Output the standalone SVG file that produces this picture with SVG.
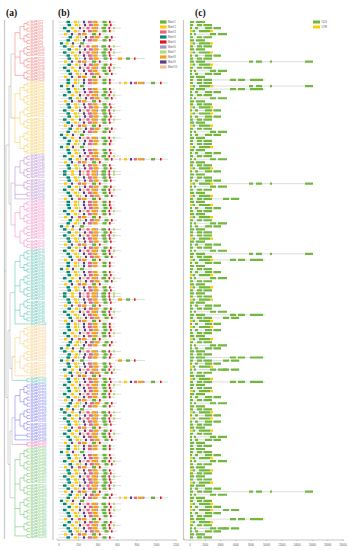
<svg xmlns="http://www.w3.org/2000/svg" xmlns:xlink="http://www.w3.org/1999/xlink" width="350" height="550" viewBox="0 0 350 550">
<style>
path{fill:none}
.ln{stroke:#cfcfcf;stroke-width:.7}
.k1{stroke:#6ab23e;stroke-width:2.4}.k2{stroke:#ffcc00;stroke-width:2.4}.k3{stroke:#ef5f82;stroke-width:2.4}.k4{stroke:#008a78;stroke-width:2.4}.k5{stroke:#e3141c;stroke-width:2.4}.k6{stroke:#9d9abf;stroke-width:2.4}.k7{stroke:#b3da7f;stroke-width:2.4}.k8{stroke:#f7a11a;stroke-width:2.4}.k9{stroke:#5a3c8e;stroke-width:2.4}.k10{stroke:#fbbd90;stroke-width:2.4}
.cd{stroke:#72b83e;stroke-width:2.2}.ut{stroke:#ffcc00;stroke-width:2.2}
.tp{stroke:currentColor;stroke-width:.5}
.rt{stroke:#a8a8a8;stroke-width:.5}
.sep{stroke:#c8c8c8;stroke-width:1.2}
.ax{stroke:#8a8a8a;stroke-width:.5}
.lb{font-family:"Liberation Sans",Arial,sans-serif;font-size:2.8px}
.sm{font-family:"Liberation Sans",Arial,sans-serif;font-size:2.6px;fill:#555}
.pl{font-family:"Liberation Serif","Times New Roman",serif;font-size:9.5px;font-weight:bold;fill:#111}
</style>
<defs>
<path id="t2" class="tp" d="M27 0H30M27 3.05H30M27 0V3.05"/>
<g id="t4"><use href="#t2"/><use href="#t2" y="6.1"/><path class="tp" d="M24 1.525H27M24 7.625H27M24 1.525V7.625"/></g>
<g id="t8"><use href="#t4"/><use href="#t4" y="12.2"/><path class="tp" d="M20 4.575H24M20 16.775H24M20 4.575V16.775"/></g>
<g id="ma"><path class="ln" d="M58.5 0H115"/><path class="k4" d="M66.5 0h3.5"/><path class="k2" d="M74 0h3"/><path class="k7" d="M78 0h1.2"/><path class="k9" d="M83 0h2"/><path class="k3" d="M88 0h3"/><path class="k6" d="M91 0h1.5"/><path class="k8" d="M93 0h4.5"/><path class="k1" d="M102.5 0h4"/><path class="k5" d="M109 0h1.6"/></g>
<g id="mb"><path class="ln" d="M58.5 0H121"/><path class="k4" d="M63 0h3.5"/><path class="k2" d="M71 0h3"/><path class="k9" d="M79 0h2"/><path class="k10" d="M82.5 0h2"/><path class="k3" d="M86.5 0h3"/><path class="k8" d="M91.5 0h5"/><path class="k6" d="M96.5 0h1.5"/><path class="k1" d="M101.5 0h4.5"/><path class="k5" d="M108.5 0h1.6"/><path class="k7" d="M113 0h2"/></g>
<g id="mc"><path class="ln" d="M58.5 0H108"/><path class="k2" d="M64 0h3"/><path class="k9" d="M71 0h2"/><path class="k3" d="M78 0h3"/><path class="k8" d="M82 0h4.5"/><path class="k1" d="M92 0h4"/><path class="k5" d="M99 0h1.6"/></g>
<g id="md"><path class="ln" d="M58.5 0H92"/><path class="k4" d="M60 0h3"/><path class="k2" d="M66 0h2.5"/><path class="k9" d="M72 0h2"/><path class="k1" d="M80 0h4"/></g>
<g id="mx"><path class="ln" d="M115 0H168"/><path class="k10" d="M119 0h2"/><path class="k2" d="M124 0h3"/><path class="k9" d="M130 0h2"/><path class="k3" d="M134 0h3"/><path class="k8" d="M138 0h5"/><path class="k6" d="M143 0h1.5"/><path class="k1" d="M151 0h4"/><path class="k5" d="M160 0h1.6"/></g>
<g id="my"><path class="ln" d="M115 0H145"/><path class="k8" d="M118 0h4"/><path class="k1" d="M126 0h4"/><path class="k5" d="M134 0h1.5"/></g>
<g id="bA"><use href="#ma"/><use href="#ma" x="1" y="3.05"/><use href="#mb" y="6.1"/><use href="#ma" y="9.15"/><use href="#mc" y="12.2"/><use href="#ma" x="2" y="15.25"/><use href="#ma" y="18.3"/><use href="#md" y="21.35"/><use href="#mb" y="24.4"/><use href="#ma" x="1" y="27.45"/></g>
<g id="bB"><use href="#mb"/><use href="#ma" y="3.05"/><use href="#ma" x="1" y="6.1"/><use href="#mc" y="9.15"/><use href="#ma" x="1" y="12.2"/><use href="#mb" y="15.25"/><use href="#ma" y="18.3"/><use href="#ma" x="2" y="21.35"/><use href="#mc" y="24.4"/><use href="#ma" y="27.45"/></g>
<g id="bC"><use href="#ma"/><use href="#md" y="3.05"/><use href="#ma" y="6.1"/><use href="#ma" x="1" y="9.15"/><use href="#mb" y="12.2"/><use href="#ma" x="2" y="15.25"/><use href="#mc" y="18.3"/><use href="#ma" y="21.35"/><use href="#ma" x="1" y="24.4"/><use href="#mb" y="27.45"/></g>
<g id="ga"><path class="ln" d="M190 0H212"/><path class="cd" d="M190 0h3M197 0h5M203.5 0h8.5"/></g>
<g id="gb"><path class="ln" d="M190 0H227"/><path class="cd" d="M190 0h2M194 0h2M210 0h6M218 0h9"/></g>
<g id="gc"><path class="ln" d="M190 0H205"/><path class="cd" d="M190 0h4M196 0h9"/></g>
<g id="gd"><path class="ln" d="M190 0H213"/><path class="ut" d="M190 0h2M210 0h3"/><path class="cd" d="M192.5 0h2.5M199 0h11"/></g>
<g id="gh"><path class="ln" d="M190 0H221"/><path class="cd" d="M190 0h2M195 0h3M205 0h7M213.5 0h7.5"/></g>
<g id="gx"><path class="ln" d="M200 0H313"/><path class="cd" d="M249 0h4M256 0h6M270 0h2M305 0h8"/></g>
<g id="gy"><path class="ln" d="M200 0H265"/><path class="cd" d="M230 0h6M238 0h7M250 0h13"/></g>
<g id="gz"><path class="ln" d="M200 0H240"/><path class="cd" d="M223 0h6M231 0h8"/></g>
<g id="gA"><use href="#ga"/><use href="#gd" y="3.05"/><use href="#gc" y="6.1"/><use href="#gh" y="9.15"/><use href="#ga" y="12.2"/><use href="#gb" y="15.25"/><use href="#gc" y="18.3"/><use href="#ga" y="21.35"/><use href="#gd" y="24.4"/><use href="#gh" y="27.45"/></g>
<g id="gB"><use href="#gc"/><use href="#ga" y="3.05"/><use href="#gh" y="6.1"/><use href="#gd" y="9.15"/><use href="#gb" y="12.2"/><use href="#ga" y="15.25"/><use href="#gc" y="18.3"/><use href="#gd" y="21.35"/><use href="#ga" y="24.4"/><use href="#gc" y="27.45"/></g>
<g id="gC"><use href="#gd"/><use href="#gh" y="3.05"/><use href="#ga" y="6.1"/><use href="#gc" y="9.15"/><use href="#gd" y="12.2"/><use href="#ga" y="15.25"/><use href="#gb" y="18.3"/><use href="#gh" y="21.35"/><use href="#gc" y="24.4"/><use href="#ga" y="27.45"/></g>
</defs>
<rect width="350" height="550" fill="#fff"/>
<g id="panel-labels">
<text class="pl" x="6" y="15.5">(a)</text>
<text class="pl" x="58" y="15.5">(b)</text>
<text class="pl" x="195" y="15.5">(c)</text>
</g>
<g id="separators">
<path class="sep" d="M4.5 20V539M53 20V540M183.5 20V540"/>
</g>
<g id="tree">
<g id="clade-red" style="color:#ef6f6f"><use href="#t8" y="22"/><use href="#t8" y="46.4"/><use href="#t4" y="70.8"/><path class="tp" d="M15 32.675H20M15 57.075H20M15 75.375H24M15 32.675V75.375"/></g>
<g id="clade-yellow" style="color:#f5c640"><use href="#t8" y="83"/><use href="#t8" y="107.4"/><use href="#t8" y="131.8"/><path class="tp" d="M15 93.675H20M15 118.075H20M15 142.475H20M15 93.675V142.475"/></g>
<g id="clade-purple" style="color:#b27ccf"><use href="#t8" y="156.2"/><use href="#t4" y="180.6"/><use href="#t2" y="192.8"/><path class="tp" d="M15 166.875H20M15 185.175H24M15 194.325H27M15 198.9H30M15 166.875V198.9"/></g>
<g id="clade-pink" style="color:#f27bc2"><use href="#t8" y="201.95"/><use href="#t8" y="226.35"/><path class="tp" d="M15 212.625H20M15 237.025H20M15 212.625V237.025"/></g>
<g id="clade-teal" style="color:#3ebdad"><use href="#t8" y="250.75"/><use href="#t8" y="275.15"/><use href="#t8" y="299.55"/><path class="tp" d="M15 261.425H20M15 285.825H20M15 310.225H20M15 323.95H30M15 261.425V323.95"/></g>
<g id="clade-orange" style="color:#f9c66a"><use href="#t8" y="327"/><use href="#t8" y="351.4"/><path class="tp" d="M15 337.675H20M15 362.075H20M15 375.8H30M15 337.675V375.8"/></g>
<g id="clade-teal2" style="color:#3ebdad"><use href="#t2" y="378.85"/><path class="tp" d="M15 380.375H27"/></g>
<g id="clade-blue" style="color:#6a6af0"><use href="#t8" y="384.95"/><use href="#t8" y="409.35"/><use href="#t2" y="433.75"/><path class="tp" d="M15 395.625H20M15 420.025H20M15 435.275H27M15 439.85H30M15 395.625V439.85"/></g>
<g id="clade-magenta" style="color:#f060a8"><use href="#t2" y="442.9"/><path class="tp" d="M15 444.425H27"/></g>
<g id="clade-green" style="color:#5cbf5c"><use href="#t8" y="449"/><use href="#t8" y="473.4"/><use href="#t8" y="497.8"/><use href="#t4" y="522.2"/><use href="#t2" y="534.4"/><path class="tp" d="M15 459.675H20M15 484.075H20M15 508.475H20M15 526.775H24M15 535.925H27M15 459.675V535.925"/></g>
<g id="root"><path class="rt" d="M11 54H15M11 118H15M11 54V118M11 183H15M11 225H15M11 183V225M9 86H11M9 204H11M9 86V204M12 356.7H15M12 380.4H15M12 356.7V380.4M10 292.7H15M10 368.5H12M10 292.7V368.5M12 417.7H15M12 444.4H15M12 417.7V444.4M10 431H12M10 497.8H15M10 431V497.8M8 330.6H10M8 464.4H10M8 330.6V464.4M6 145H9M6 397.5H8M6 145V397.5M4.5 271H6"/></g>
</g>
<g id="leaf-labels" class="lb">
<text style="fill:#ef6f6f"><tspan x="30.5" y="22.9">MsPP2C1</tspan><tspan x="30.5" y="25.95">MsPP2C2</tspan><tspan x="30.5" y="29">MsPP2C3</tspan><tspan x="30.5" y="32.05">MsPP2C4</tspan><tspan x="30.5" y="35.1">MsPP2C5</tspan><tspan x="30.5" y="38.15">MsPP2C6</tspan><tspan x="30.5" y="41.2">MsPP2C7</tspan><tspan x="30.5" y="44.25">MsPP2C8</tspan><tspan x="30.5" y="47.3">MsPP2C9</tspan><tspan x="30.5" y="50.35">MsPP2C10</tspan><tspan x="30.5" y="53.4">MsPP2C11</tspan><tspan x="30.5" y="56.45">MsPP2C12</tspan><tspan x="30.5" y="59.5">MsPP2C13</tspan><tspan x="30.5" y="62.55">MsPP2C14</tspan><tspan x="30.5" y="65.6">MsPP2C15</tspan><tspan x="30.5" y="68.65">MsPP2C16</tspan><tspan x="30.5" y="71.7">MsPP2C17</tspan><tspan x="30.5" y="74.75">MsPP2C18</tspan><tspan x="30.5" y="77.8">MsPP2C19</tspan><tspan x="30.5" y="80.85">MsPP2C20</tspan></text>
<text style="fill:#f5c640"><tspan x="30.5" y="83.9">MsPP2C21</tspan><tspan x="30.5" y="86.95">MsPP2C22</tspan><tspan x="30.5" y="90">MsPP2C23</tspan><tspan x="30.5" y="93.05">MsPP2C24</tspan><tspan x="30.5" y="96.1">MsPP2C25</tspan><tspan x="30.5" y="99.15">MsPP2C26</tspan><tspan x="30.5" y="102.2">MsPP2C27</tspan><tspan x="30.5" y="105.25">MsPP2C28</tspan><tspan x="30.5" y="108.3">MsPP2C29</tspan><tspan x="30.5" y="111.35">MsPP2C30</tspan><tspan x="30.5" y="114.4">MsPP2C31</tspan><tspan x="30.5" y="117.45">MsPP2C32</tspan><tspan x="30.5" y="120.5">MsPP2C33</tspan><tspan x="30.5" y="123.55">MsPP2C34</tspan><tspan x="30.5" y="126.6">MsPP2C35</tspan><tspan x="30.5" y="129.65">MsPP2C36</tspan><tspan x="30.5" y="132.7">MsPP2C37</tspan><tspan x="30.5" y="135.75">MsPP2C38</tspan><tspan x="30.5" y="138.8">MsPP2C39</tspan><tspan x="30.5" y="141.85">MsPP2C40</tspan><tspan x="30.5" y="144.9">MsPP2C41</tspan><tspan x="30.5" y="147.95">MsPP2C42</tspan><tspan x="30.5" y="151">MsPP2C43</tspan><tspan x="30.5" y="154.05">MsPP2C44</tspan></text>
<text style="fill:#b27ccf"><tspan x="30.5" y="157.1">MsPP2C45</tspan><tspan x="30.5" y="160.15">MsPP2C46</tspan><tspan x="30.5" y="163.2">MsPP2C47</tspan><tspan x="30.5" y="166.25">MsPP2C48</tspan><tspan x="30.5" y="169.3">MsPP2C49</tspan><tspan x="30.5" y="172.35">MsPP2C50</tspan><tspan x="30.5" y="175.4">MsPP2C51</tspan><tspan x="30.5" y="178.45">MsPP2C52</tspan><tspan x="30.5" y="181.5">MsPP2C53</tspan><tspan x="30.5" y="184.55">MsPP2C54</tspan><tspan x="30.5" y="187.6">MsPP2C55</tspan><tspan x="30.5" y="190.65">MsPP2C56</tspan><tspan x="30.5" y="193.7">MsPP2C57</tspan><tspan x="30.5" y="196.75">MsPP2C58</tspan><tspan x="30.5" y="199.8">MsPP2C59</tspan></text>
<text style="fill:#f27bc2"><tspan x="30.5" y="202.85">MsPP2C60</tspan><tspan x="30.5" y="205.9">MsPP2C61</tspan><tspan x="30.5" y="208.95">MsPP2C62</tspan><tspan x="30.5" y="212">MsPP2C63</tspan><tspan x="30.5" y="215.05">MsPP2C64</tspan><tspan x="30.5" y="218.1">MsPP2C65</tspan><tspan x="30.5" y="221.15">MsPP2C66</tspan><tspan x="30.5" y="224.2">MsPP2C67</tspan><tspan x="30.5" y="227.25">MsPP2C68</tspan><tspan x="30.5" y="230.3">MsPP2C69</tspan><tspan x="30.5" y="233.35">MsPP2C70</tspan><tspan x="30.5" y="236.4">MsPP2C71</tspan><tspan x="30.5" y="239.45">MsPP2C72</tspan><tspan x="30.5" y="242.5">MsPP2C73</tspan><tspan x="30.5" y="245.55">MsPP2C74</tspan><tspan x="30.5" y="248.6">MsPP2C75</tspan></text>
<text style="fill:#3ebdad"><tspan x="30.5" y="251.65">MsPP2C76</tspan><tspan x="30.5" y="254.7">MsPP2C77</tspan><tspan x="30.5" y="257.75">MsPP2C78</tspan><tspan x="30.5" y="260.8">MsPP2C79</tspan><tspan x="30.5" y="263.85">MsPP2C80</tspan><tspan x="30.5" y="266.9">MsPP2C81</tspan><tspan x="30.5" y="269.95">MsPP2C82</tspan><tspan x="30.5" y="273">MsPP2C83</tspan><tspan x="30.5" y="276.05">MsPP2C84</tspan><tspan x="30.5" y="279.1">MsPP2C85</tspan><tspan x="30.5" y="282.15">MsPP2C86</tspan><tspan x="30.5" y="285.2">MsPP2C87</tspan><tspan x="30.5" y="288.25">MsPP2C88</tspan><tspan x="30.5" y="291.3">MsPP2C89</tspan><tspan x="30.5" y="294.35">MsPP2C90</tspan><tspan x="30.5" y="297.4">MsPP2C91</tspan><tspan x="30.5" y="300.45">MsPP2C92</tspan><tspan x="30.5" y="303.5">MsPP2C93</tspan><tspan x="30.5" y="306.55">MsPP2C94</tspan><tspan x="30.5" y="309.6">MsPP2C95</tspan><tspan x="30.5" y="312.65">MsPP2C96</tspan><tspan x="30.5" y="315.7">MsPP2C97</tspan><tspan x="30.5" y="318.75">MsPP2C98</tspan><tspan x="30.5" y="321.8">MsPP2C99</tspan><tspan x="30.5" y="324.85">MsPP2C100</tspan></text>
<text style="fill:#f9c66a"><tspan x="30.5" y="327.9">MsPP2C101</tspan><tspan x="30.5" y="330.95">MsPP2C102</tspan><tspan x="30.5" y="334">MsPP2C103</tspan><tspan x="30.5" y="337.05">MsPP2C104</tspan><tspan x="30.5" y="340.1">MsPP2C105</tspan><tspan x="30.5" y="343.15">MsPP2C106</tspan><tspan x="30.5" y="346.2">MsPP2C107</tspan><tspan x="30.5" y="349.25">MsPP2C108</tspan><tspan x="30.5" y="352.3">MsPP2C109</tspan><tspan x="30.5" y="355.35">MsPP2C110</tspan><tspan x="30.5" y="358.4">MsPP2C111</tspan><tspan x="30.5" y="361.45">MsPP2C112</tspan><tspan x="30.5" y="364.5">MsPP2C113</tspan><tspan x="30.5" y="367.55">MsPP2C114</tspan><tspan x="30.5" y="370.6">MsPP2C115</tspan><tspan x="30.5" y="373.65">MsPP2C116</tspan><tspan x="30.5" y="376.7">MsPP2C117</tspan></text>
<text style="fill:#3ebdad"><tspan x="30.5" y="379.75">MsPP2C118</tspan><tspan x="30.5" y="382.8">MsPP2C119</tspan></text>
<text style="fill:#6a6af0"><tspan x="30.5" y="385.85">MsPP2C120</tspan><tspan x="30.5" y="388.9">MsPP2C121</tspan><tspan x="30.5" y="391.95">MsPP2C122</tspan><tspan x="30.5" y="395">MsPP2C123</tspan><tspan x="30.5" y="398.05">MsPP2C124</tspan><tspan x="30.5" y="401.1">MsPP2C125</tspan><tspan x="30.5" y="404.15">MsPP2C126</tspan><tspan x="30.5" y="407.2">MsPP2C127</tspan><tspan x="30.5" y="410.25">MsPP2C128</tspan><tspan x="30.5" y="413.3">MsPP2C129</tspan><tspan x="30.5" y="416.35">MsPP2C130</tspan><tspan x="30.5" y="419.4">MsPP2C131</tspan><tspan x="30.5" y="422.45">MsPP2C132</tspan><tspan x="30.5" y="425.5">MsPP2C133</tspan><tspan x="30.5" y="428.55">MsPP2C134</tspan><tspan x="30.5" y="431.6">MsPP2C135</tspan><tspan x="30.5" y="434.65">MsPP2C136</tspan><tspan x="30.5" y="437.7">MsPP2C137</tspan><tspan x="30.5" y="440.75">MsPP2C138</tspan></text>
<text style="fill:#f060a8"><tspan x="30.5" y="443.8">MsPP2C139</tspan><tspan x="30.5" y="446.85">MsPP2C140</tspan></text>
<text style="fill:#5cbf5c"><tspan x="30.5" y="449.9">MsPP2C141</tspan><tspan x="30.5" y="452.95">MsPP2C142</tspan><tspan x="30.5" y="456">MsPP2C143</tspan><tspan x="30.5" y="459.05">MsPP2C144</tspan><tspan x="30.5" y="462.1">MsPP2C145</tspan><tspan x="30.5" y="465.15">MsPP2C146</tspan><tspan x="30.5" y="468.2">MsPP2C147</tspan><tspan x="30.5" y="471.25">MsPP2C148</tspan><tspan x="30.5" y="474.3">MsPP2C149</tspan><tspan x="30.5" y="477.35">MsPP2C150</tspan><tspan x="30.5" y="480.4">MsPP2C151</tspan><tspan x="30.5" y="483.45">MsPP2C152</tspan><tspan x="30.5" y="486.5">MsPP2C153</tspan><tspan x="30.5" y="489.55">MsPP2C154</tspan><tspan x="30.5" y="492.6">MsPP2C155</tspan><tspan x="30.5" y="495.65">MsPP2C156</tspan><tspan x="30.5" y="498.7">MsPP2C157</tspan><tspan x="30.5" y="501.75">MsPP2C158</tspan><tspan x="30.5" y="504.8">MsPP2C159</tspan><tspan x="30.5" y="507.85">MsPP2C160</tspan><tspan x="30.5" y="510.9">MsPP2C161</tspan><tspan x="30.5" y="513.95">MsPP2C162</tspan><tspan x="30.5" y="517">MsPP2C163</tspan><tspan x="30.5" y="520.05">MsPP2C164</tspan><tspan x="30.5" y="523.1">MsPP2C165</tspan><tspan x="30.5" y="526.15">MsPP2C166</tspan><tspan x="30.5" y="529.2">MsPP2C167</tspan><tspan x="30.5" y="532.25">MsPP2C168</tspan><tspan x="30.5" y="535.3">MsPP2C169</tspan><tspan x="30.5" y="538.35">MsPP2C170</tspan></text>
</g>
<g id="motifs">
<use href="#my" y="58.6"/><use href="#mx" y="83"/><use href="#mx" y="159.25"/><use href="#my" y="299.55"/><use href="#my" y="360.55"/><use href="#mx" y="381.9"/><use href="#mx" y="497.8"/>
<use href="#bA" y="22"/><use href="#bB" y="52.5"/><use href="#bC" y="83"/><use href="#bA" y="113.5"/><use href="#bC" y="144"/><use href="#bB" y="174.5"/><use href="#bA" y="205"/><use href="#bB" y="235.5"/><use href="#bC" y="266"/><use href="#bB" y="296.5"/><use href="#bA" y="327"/><use href="#bC" y="357.5"/><use href="#bA" y="388"/><use href="#bB" y="418.5"/><use href="#bC" y="449"/><use href="#bA" y="479.5"/><use href="#bB" y="510"/>
</g>
<g id="motif-legend" class="sm">
<rect x="160" y="20.4" width="6.5" height="3.2" fill="#6ab23e"/><text x="168" y="22.9">Motif 1</text>
<rect x="160" y="25.4" width="6.5" height="3.2" fill="#ffcc00"/><text x="168" y="27.9">Motif 2</text>
<rect x="160" y="30.4" width="6.5" height="3.2" fill="#ef5f82"/><text x="168" y="32.9">Motif 3</text>
<rect x="160" y="35.4" width="6.5" height="3.2" fill="#008a78"/><text x="168" y="37.9">Motif 4</text>
<rect x="160" y="40.4" width="6.5" height="3.2" fill="#e3141c"/><text x="168" y="42.9">Motif 5</text>
<rect x="160" y="45.4" width="6.5" height="3.2" fill="#9d9abf"/><text x="168" y="47.9">Motif 6</text>
<rect x="160" y="50.4" width="6.5" height="3.2" fill="#b3da7f"/><text x="168" y="52.9">Motif 7</text>
<rect x="160" y="55.4" width="6.5" height="3.2" fill="#f7a11a"/><text x="168" y="57.9">Motif 8</text>
<rect x="160" y="60.4" width="6.5" height="3.2" fill="#5a3c8e"/><text x="168" y="62.9">Motif 9</text>
<rect x="160" y="65.4" width="6.5" height="3.2" fill="#fbbd90"/><text x="168" y="67.9">Motif 10</text>
</g>
<g id="motif-axis">
<path class="ax" d="M57 540H177M57 538.5V540M59 540v1M78.5 540v1M98 540v1M117.5 540v1M137 540v1M156.5 540v1M176 540v1"/>
<g class="sm" text-anchor="middle"><text x="59" y="545.5">0</text><text x="78.5" y="545.5">200</text><text x="98" y="545.5">400</text><text x="117.5" y="545.5">600</text><text x="137" y="545.5">800</text><text x="156.5" y="545.5">1000</text><text x="176" y="545.5">1200</text></g>
</g>
<g id="genes">
<use href="#gx" y="61.65"/><use href="#gy" y="79.95"/><use href="#gx" y="86.05"/><use href="#gy" y="89.1"/><use href="#gx" y="183.65"/><use href="#gz" y="198.9"/><use href="#gx" y="253.8"/><use href="#gy" y="259.9"/><use href="#gy" y="314.8"/><use href="#gz" y="317.85"/><use href="#gy" y="357.5"/><use href="#gz" y="360.55"/><use href="#gz" y="369.7"/><use href="#gy" y="381.9"/><use href="#gx" y="491.7"/><use href="#gz" y="510"/><use href="#gy" y="519.15"/><use href="#gz" y="528.3"/>
<use href="#gB" y="22"/><use href="#gC" y="52.5"/><use href="#gA" y="83"/><use href="#gC" y="113.5"/><use href="#gA" y="144"/><use href="#gB" y="174.5"/><use href="#gC" y="205"/><use href="#gA" y="235.5"/><use href="#gB" y="266"/><use href="#gA" y="296.5"/><use href="#gC" y="327"/><use href="#gB" y="357.5"/><use href="#gA" y="388"/><use href="#gC" y="418.5"/><use href="#gB" y="449"/><use href="#gA" y="479.5"/><use href="#gC" y="510"/>
</g>
<g id="gene-legend" class="sm">
<rect x="313" y="20.5" width="7" height="3" fill="#72b83e"/><text x="321.5" y="23">CDS</text>
<rect x="313" y="25.5" width="7" height="3" fill="#ffcc00"/><text x="321.5" y="28">UTR</text>
</g>
<g id="gene-axis">
<path class="ax" d="M184 540H344M184 538.5V540M190 540v1M205.3 540v1M220.6 540v1M235.9 540v1M251.2 540v1M266.5 540v1M281.8 540v1M297.1 540v1M312.4 540v1M327.7 540v1M343 540v1"/>
<g class="sm" text-anchor="middle"><text x="190" y="545.5">0</text><text x="205.3" y="545.5">2000</text><text x="220.6" y="545.5">4000</text><text x="235.9" y="545.5">6000</text><text x="251.2" y="545.5">8000</text><text x="266.5" y="545.5">10000</text><text x="281.8" y="545.5">12000</text><text x="297.1" y="545.5">14000</text><text x="312.4" y="545.5">16000</text><text x="327.7" y="545.5">18000</text><text x="343" y="545.5">20000</text></g>
</g>
</svg>
